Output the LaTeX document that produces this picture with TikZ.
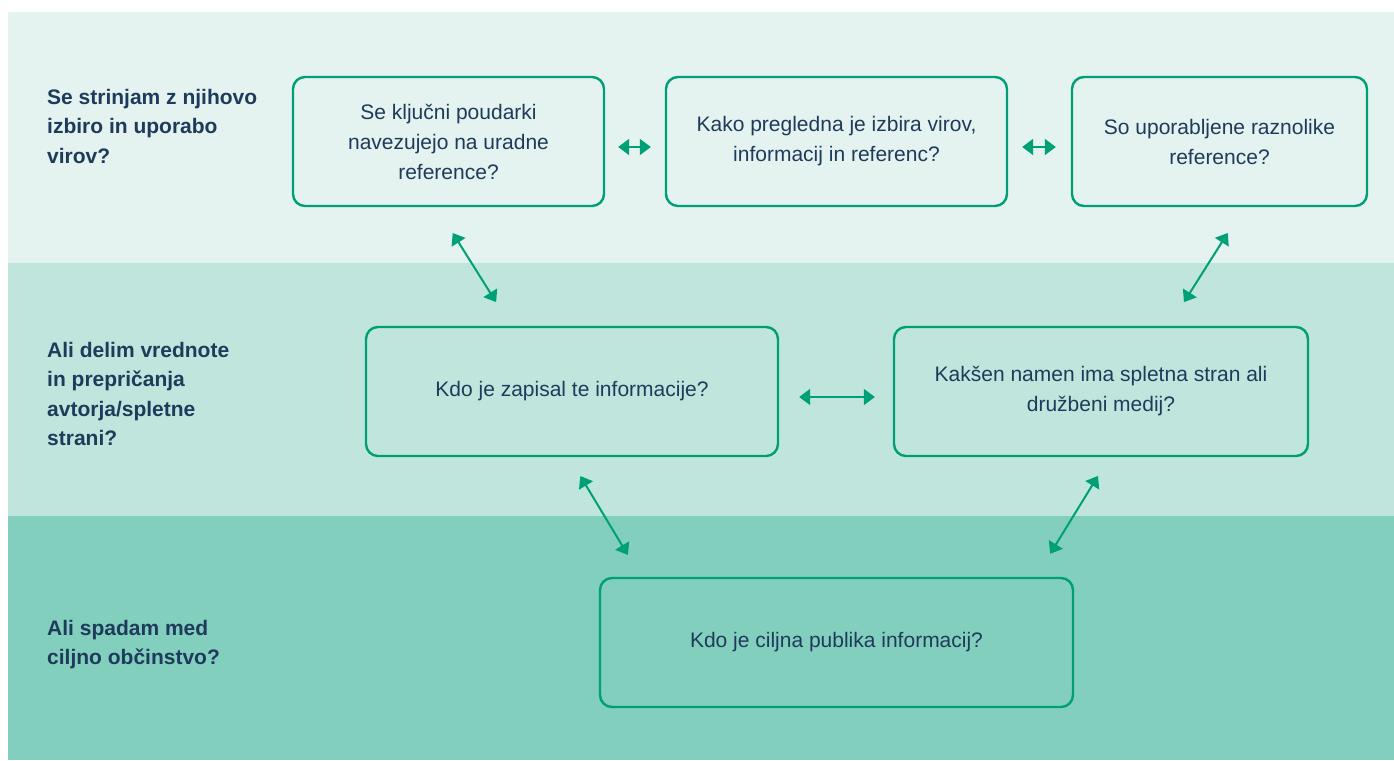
\documentclass[tikz,border=0pt]{standalone}
\usepackage{fontspec}
\setmainfont{Liberation Sans}
\usepackage{tikz}
\usetikzlibrary{arrows.meta}
\definecolor{bandA}{HTML}{E4F3F0}
\definecolor{bandB}{HTML}{C0E5DC}
\definecolor{bandC}{HTML}{82CFBE}
\definecolor{grn}{HTML}{00A077}
\definecolor{navy}{HTML}{1F3B5C}

\begin{document}
\begin{tikzpicture}[x=1pt, y=-1pt]
    \tikzstyle{proc}  = [rectangle, rounded corners=12pt, minimum height=129pt, text centered, align=center, draw=grn, line width=2.4pt, text=navy, font=\fontsize{21}{30}\selectfont]
    \tikzstyle{quest} = [anchor=north west, inner sep=0pt, align=left, text=navy, font=\fontsize{21}{29.5}\selectfont\bfseries]
    \tikzstyle{arrow} = [grn, line width=2pt, {Triangle[length=11pt, width=16pt]}-{Triangle[length=11pt, width=16pt]}]
    \useasboundingbox (0,0) rectangle (1394,760);
    % bands
    \fill[bandA] (8,12) rectangle (1394,263);
    \fill[bandB] (8,263) rectangle (1394,516);
    \fill[bandC] (8,516) rectangle (1394,760);
    % questions on the left
    \node (q1) [quest] at (47,89)  {Se strinjam z njihovo\\izbiro in uporabo\\virov?};
    \node (q2) [quest] at (47,342) {Ali delim vrednote\\in prepričanja\\avtorja/spletne\\strani?};
    \node (q3) [quest] at (47,620) {Ali spadam med\\ciljno občinstvo?};
    % boxes
    \node (a) [proc, minimum width=311pt] at (448.5,141.5) {Se ključni poudarki\\navezujejo na uradne\\reference?};
    \node (b) [proc, minimum width=341pt] at (836.5,141.5) {Kako pregledna je izbira virov,\\informacij in referenc?};
    \node (c) [proc, minimum width=295pt] at (1219.5,141.5) {So uporabljene raznolike\\reference?};
    \node (d) [proc, minimum width=412pt] at (572,391.5) {Kdo je zapisal te informacije?};
    \node (e) [proc, minimum width=414pt] at (1101,391.5) {Kakšen namen ima spletna stran ali\\družbeni medij?};
    \node (f) [proc, minimum width=473pt] at (836.5,642.5) {Kdo je ciljna publika informacij?};
    % connectors
    \draw[arrow, shorten <=13pt, shorten >=14pt] ([yshift=-5.5pt]a.east) -- ([yshift=-5.5pt]b.west);
    \draw[arrow, shorten <=14pt, shorten >=15pt] ([yshift=-5.5pt]b.east) -- ([yshift=-5.5pt]c.west);
    \draw[arrow, shorten <=20pt, shorten >=18pt] ([yshift=-5.5pt]d.east) -- ([yshift=-5.5pt]e.west);
    \draw[arrow, shorten <=30.5pt, shorten >=28pt] ([xshift=-12pt]a.south) -- ([xshift=-61pt]d.north);
    \draw[arrow, shorten <=30.5pt, shorten >=28pt] ([xshift=24.5pt]c.south) -- ([xshift=68pt]e.north);
    \draw[arrow, shorten <=22pt, shorten >=25.5pt] ([xshift=-3pt]d.south) -- ([xshift=-195.5pt]f.north);
    \draw[arrow, shorten <=22pt, shorten >=27pt] ([xshift=8.5pt]e.south) -- ([xshift=199.5pt]f.north);
\end{tikzpicture}
\end{document}
